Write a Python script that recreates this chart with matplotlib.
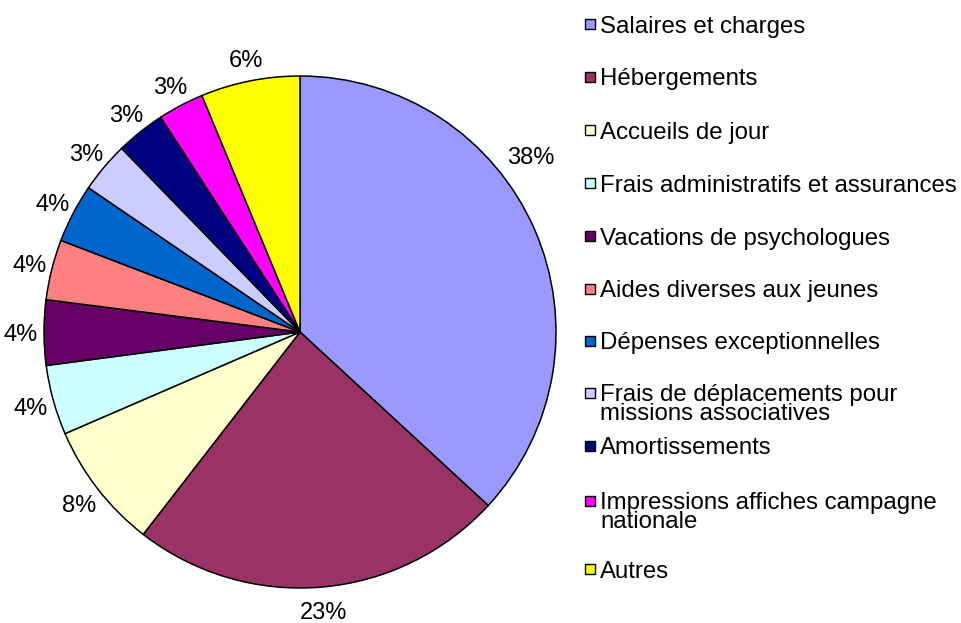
import matplotlib
matplotlib.use("Agg")
import matplotlib.pyplot as plt
from matplotlib.patches import Rectangle
import numpy as np

plt.rcParams['font.family'] = ['Liberation Sans', 'DejaVu Sans']

categories = [
    "Salaires et charges",
    "Hébergements",
    "Accueils de jour",
    "Frais administratifs et assurances",
    "Vacations de psychologues",
    "Aides diverses aux jeunes",
    "Dépenses exceptionnelles",
    "Frais de déplacements pour\nmissions associatives",
    "Amortissements",
    "Impressions affiches campagne\nnationale",
    "Autres",
]
values = [36.8, 23.6, 8.0, 4.4, 4.1, 3.8, 3.7, 3.2, 3.1, 2.9, 6.25]
pct_labels = ["38%", "23%", "8%", "4%", "4%", "4%", "4%", "3%", "3%", "3%", "6%"]
colors = ["#9999FF", "#993366", "#FFFFCC", "#CCFFFF", "#660066", "#FF8080",
          "#0066CC", "#CCCCFF", "#000080", "#FF00FF", "#FFFF00"]

W, H = 962, 623
fig = plt.figure(figsize=(W / 100, H / 100), dpi=100)

cx, cy, R = 300, 332, 256
ax = fig.add_axes([(cx - R) / W, (H - cy - R) / H, 2 * R / W, 2 * R / H])
wedges, texts = ax.pie(
    values, colors=colors, startangle=90, counterclock=False,
    wedgeprops=dict(edgecolor="black", linewidth=1.1),
    labels=pct_labels, labeldistance=1.09,
    textprops=dict(fontsize=17, color="black"),
)
ax.set_xlim(-1, 1)
ax.set_ylim(-1, 1)
ax.set_aspect("equal")
ax.axis("off")

for t in texts:
    t.set_clip_on(False)
    t.set_ha("center")
    t.set_va("center_baseline")
# the first label sits higher in the original
first_ang = np.deg2rad(37.5)
texts[0].set_position((1.135 * np.cos(first_ang), 1.135 * np.sin(first_ang)))

# manual legend (Excel-like layout)
legend_y = [24, 77, 130, 183, 236, 289, 341, 393, 446, 501, 569]
line_px = 21
for lab, col, y in zip(categories, colors, legend_y):
    n = lab.count("\n") + 1
    sq = 10
    fig.patches.append(Rectangle((585 / W, (H - y - sq / 2) / H), sq / W, sq / H,
                                 facecolor=col, edgecolor="black", linewidth=1.0,
                                 transform=fig.transFigure, figure=fig))
    yc = y + (n - 1) * line_px / 2
    fig.text(600 / W, (H - yc) / H, lab, fontsize=17.3, va="center_baseline",
             ha="left", linespacing=0.8)

fig.savefig("out.png", dpi=100)
